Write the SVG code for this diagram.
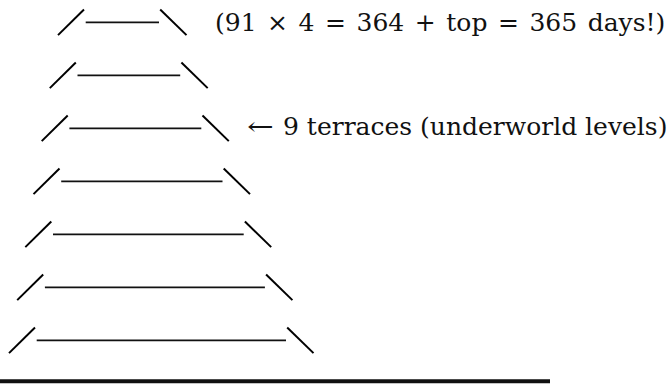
<svg xmlns="http://www.w3.org/2000/svg" width="671" height="386" viewBox="0 0 671 386">
<style>
.edge{stroke:#000;stroke-width:2;stroke-linecap:butt;fill:none}
.step{stroke:#111;stroke-width:1.7;fill:none}
.base{stroke:#111;stroke-width:4;fill:none}
.lbl{font-family:"DejaVu Serif","Liberation Serif",serif;font-size:25px;fill:#111}
</style>
<rect width="671" height="386" fill="#fff"/>
<g id="terrace1"><line class="edge" x1="58" y1="35.1" x2="84" y2="9.5"/><line class="step" x1="85.7" y1="22.3" x2="159" y2="22.3"/><line class="edge" x1="160.2" y1="9.5" x2="186.5" y2="35.1"/></g>
<g id="terrace2"><line class="edge" x1="49.8" y1="88.1" x2="75.8" y2="62.5"/><line class="step" x1="77.5" y1="75.3" x2="180.2" y2="75.3"/><line class="edge" x1="181.4" y1="62.5" x2="207.7" y2="88.1"/></g>
<g id="terrace3"><line class="edge" x1="41.7" y1="141.1" x2="67.7" y2="115.5"/><line class="step" x1="69.4" y1="128.3" x2="201.3" y2="128.3"/><line class="edge" x1="202.5" y1="115.5" x2="228.8" y2="141.1"/></g>
<g id="terrace4"><line class="edge" x1="33.5" y1="194.1" x2="59.5" y2="168.5"/><line class="step" x1="61.2" y1="181.3" x2="222.5" y2="181.3"/><line class="edge" x1="223.7" y1="168.5" x2="250" y2="194.1"/></g>
<g id="terrace5"><line class="edge" x1="25.3" y1="247.1" x2="51.3" y2="221.5"/><line class="step" x1="53" y1="234.3" x2="243.7" y2="234.3"/><line class="edge" x1="244.9" y1="221.5" x2="271.2" y2="247.1"/></g>
<g id="terrace6"><line class="edge" x1="17.2" y1="300.1" x2="43.2" y2="274.5"/><line class="step" x1="44.9" y1="287.3" x2="264.9" y2="287.3"/><line class="edge" x1="266.1" y1="274.5" x2="292.4" y2="300.1"/></g>
<g id="terrace7"><line class="edge" x1="9" y1="353.1" x2="35" y2="327.5"/><line class="step" x1="36.7" y1="340.3" x2="286" y2="340.3"/><line class="edge" x1="287.2" y1="327.5" x2="313.5" y2="353.1"/></g>
<g id="ground"><line class="base" x1="0" y1="381.2" x2="550" y2="381.2"/></g>
<g id="label-days"><text class="lbl" x="215" y="31" word-spacing="2.6">(91 × 4 = 364 + top = 365 days!)</text></g>
<g id="label-terraces"><text class="lbl" transform="translate(247,135) scale(1.28,1)">←</text><text class="lbl" x="283" y="135">9 terraces (underworld levels)</text></g>
</svg>
